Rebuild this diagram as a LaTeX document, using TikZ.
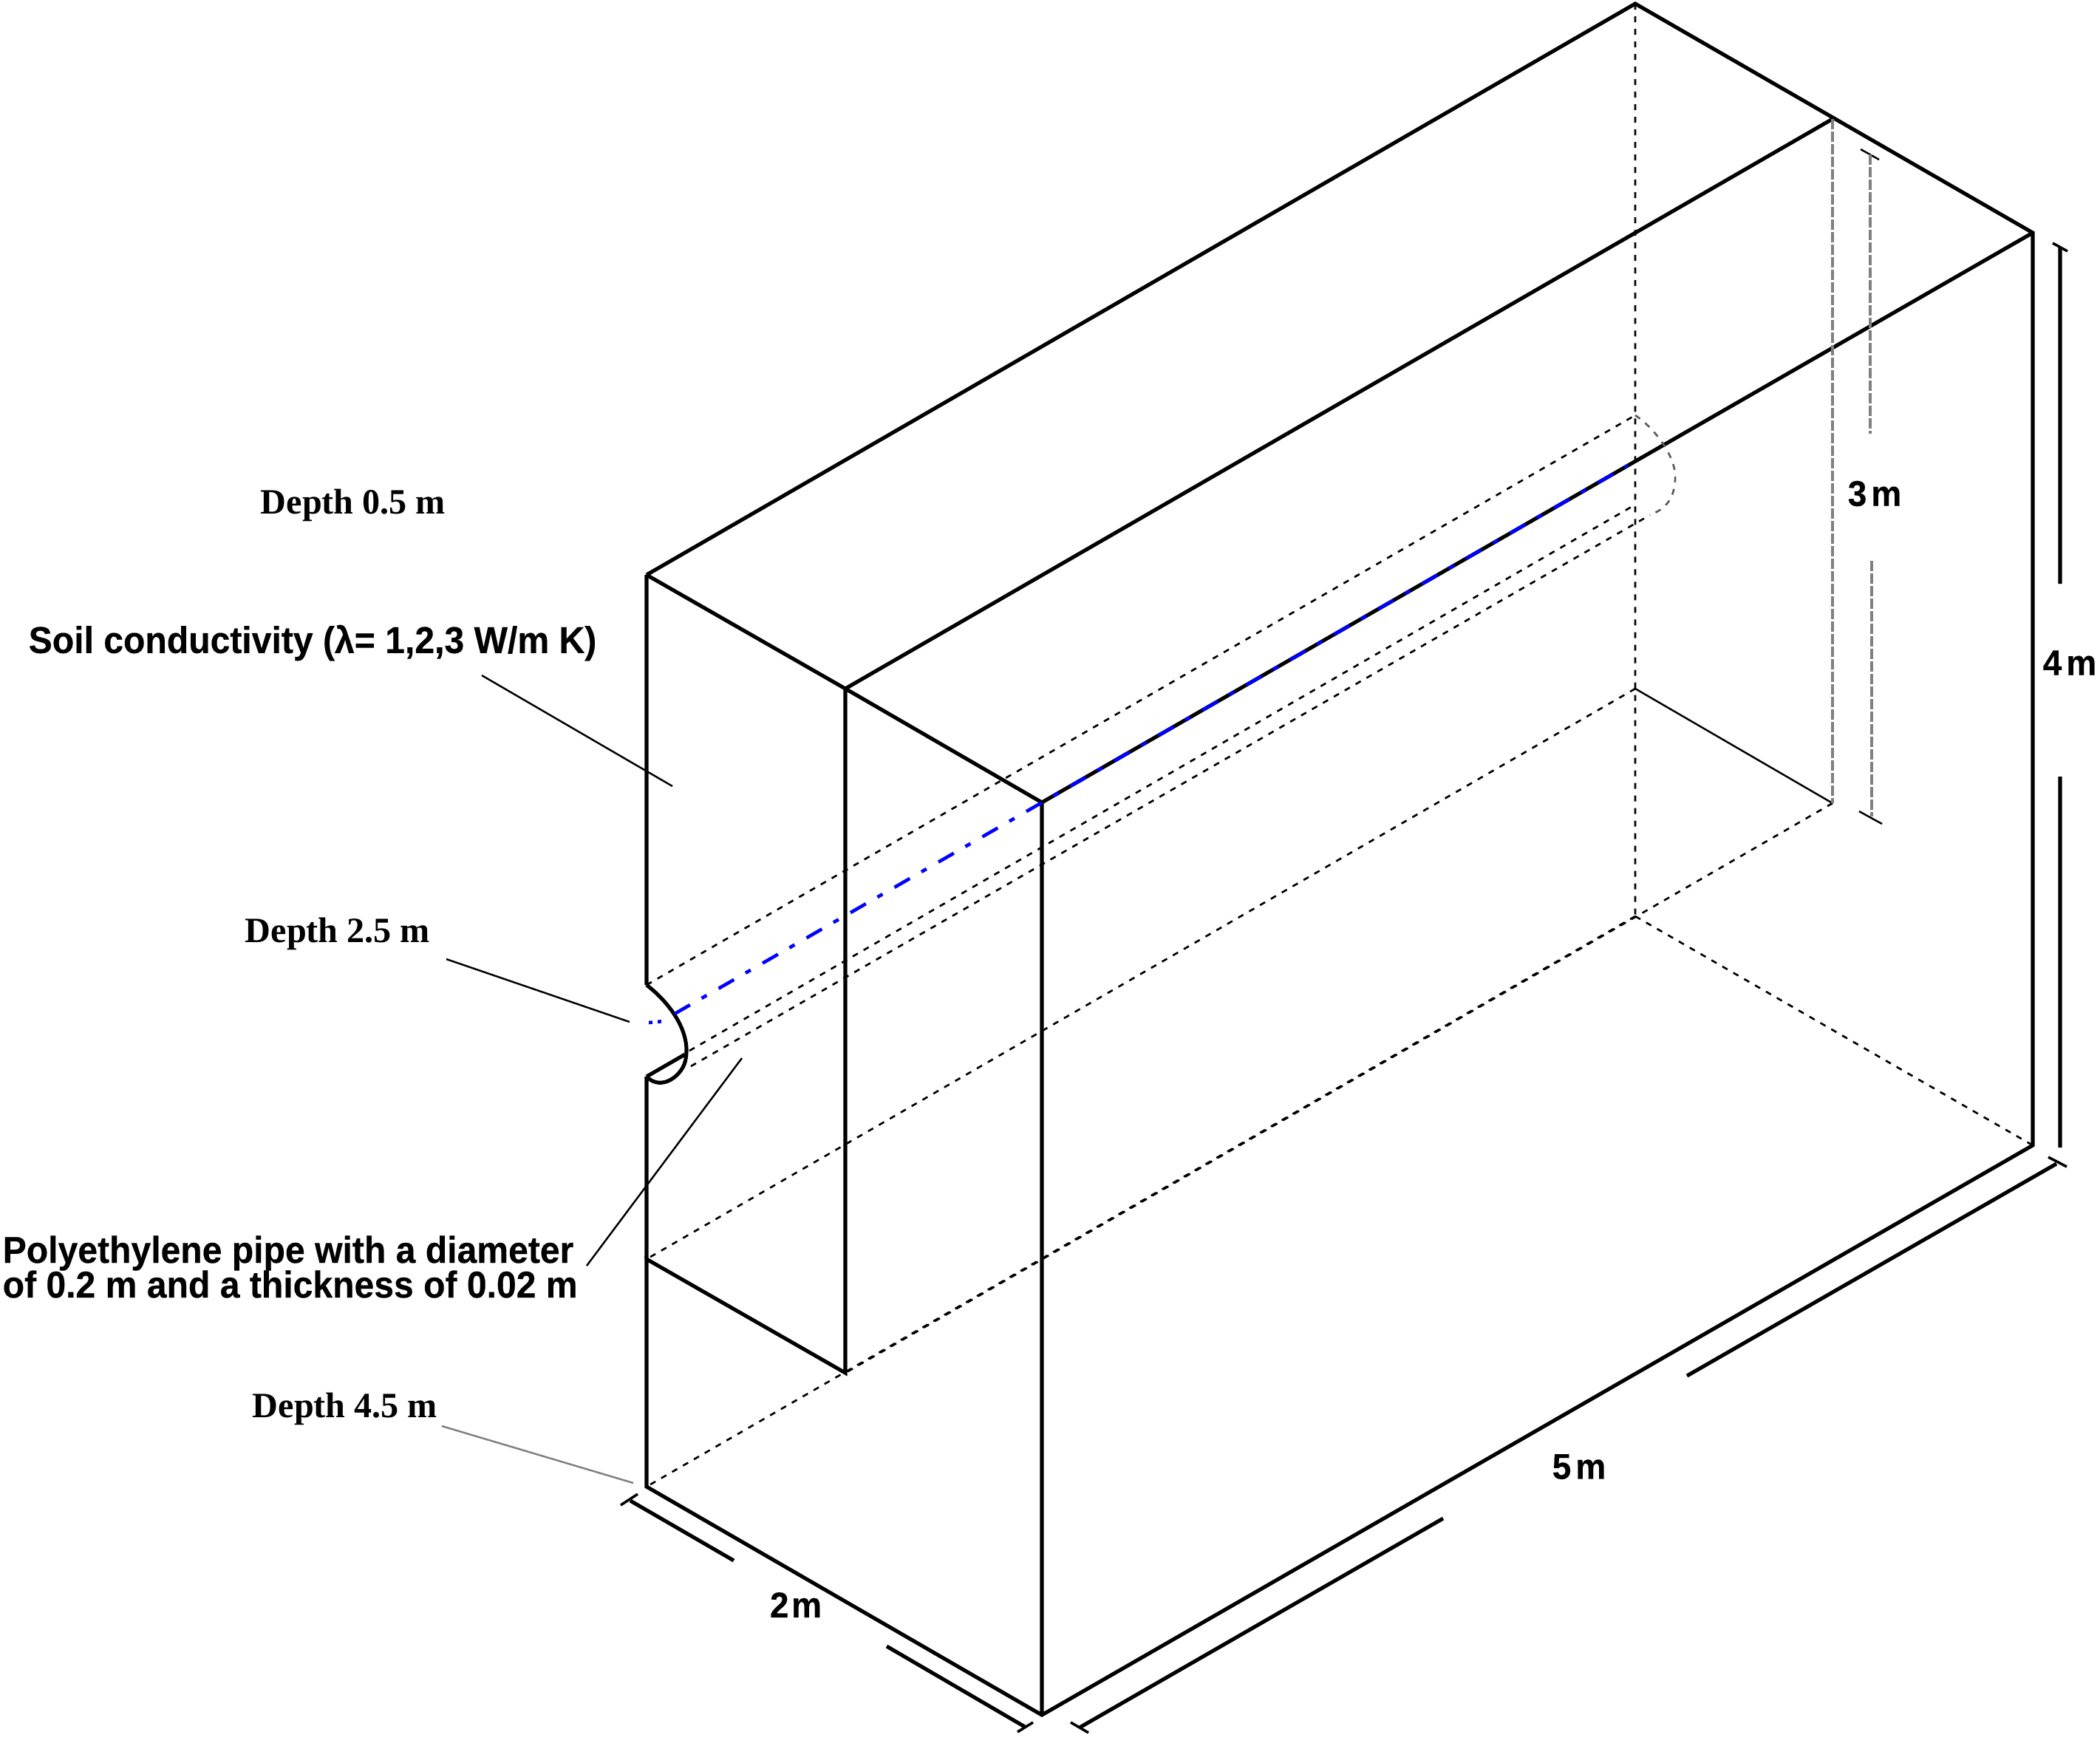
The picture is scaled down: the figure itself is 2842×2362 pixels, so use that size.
\documentclass[tikz,border=0pt]{standalone}
\usepackage{fontspec}
\setmainfont{Liberation Serif}
\setsansfont{Liberation Sans}[BoldFeatures={FakeStretch=0.95,FakeBold=0.3}]
\tikzset{
  heavy/.style={line width=1.45pt,line join=miter},
  thin line/.style={line width=0.7pt},
  tick line/.style={line width=1pt},
  hidden/.style={line width=0.75pt,dash pattern=on 0.08cm off 0.09cm},
  greyline/.style={line width=1.35pt,gray,dash pattern=on 0.14cm off 0.03cm},
  sanslabel/.style={font=\sffamily\bfseries\fontsize{14.4}{15}\selectfont,inner sep=0pt},
  dimlabel/.style={font=\sffamily\bfseries\fontsize{13.8}{15}\selectfont,inner sep=0pt},
  seriflabel/.style={font=\bfseries\fontsize{13.7}{14}\selectfont,inner sep=0pt}
}
\begin{document}
\begin{tikzpicture}[x=0.01cm,y=-0.01cm]
\useasboundingbox (0,0) rectangle (2842,2362);
\path (875,778) coordinate (A) (2213,5) coordinate (T) (1144,932) coordinate (L)
 (2480,161) coordinate (Lb) (1410,1086) coordinate (F) (2751,315) coordinate (R)
 (1410,2321) coordinate (G) (2751,1550) coordinate (H) (875,2012) coordinate (J)
 (875,1704) coordinate (K) (1144,1858) coordinate (M) (2213,1240) coordinate (Bl)
 (2213,932) coordinate (Bm) (2480,1087) coordinate (Br);
\path (875,1333) coordinate (N1) (875,1457) coordinate (N2) (927,1427) coordinate (N3)
 (2213,562) coordinate (P1) (933,1422) coordinate (Q1) (2213,683) coordinate (P2)
 (935,1443) coordinate (Q2) (2233,697) coordinate (P3) (913,1372) coordinate (C1)
 (2203,630) coordinate (C2);
% box
\draw[heavy](A)--(T)--(R)--(H)--(G)--(J)--(K)--(M)--(L)--(A)(L)--(F)--(G)(F)--(R)(L)--(Lb);
\draw[heavy](A)--(N1)(N2)--(K)(N2)--(N3);
\draw[heavy](N1)..controls(905,1356)and(935,1395)..(928,1433)
 ..controls(925,1455)and(895,1478)..(N2);
% hidden edges
\draw[hidden](T)--(Bl)(Bl)--(J)(Bl)--(H)(Bm)--(K)(Br)--(M);
\draw[thin line](Bm)--(Br);
\draw[greyline](Lb)--(Br);
% pipe
\draw[hidden](N1)--(P1)(Q1)--(P2)(Q2)--(P3);
\draw[hidden,gray!70!black](P1)..controls(2240,580)and(2270,620)..(2267,650)
 ..controls(2265,680)and(2250,690)..(P3);
\draw[blue,line width=1.3pt,dash pattern=on 0.24cm off 0.18cm on 0.08cm off 0.186cm](C1)--(C2);
\draw[blue,line width=1.3pt,dash pattern=on 0.05cm off 0.07cm](878,1384)--(898,1382);
% dimensions
\path (2778,329) coordinate (a1) (2798,340) coordinate (a2) (2788,335) coordinate (a3)
 (2788,790) coordinate (a4) (2788,1051) coordinate (a5) (2788,1553) coordinate (a6)
 (2518,202) coordinate (b1) (2543,216) coordinate (b2) (2531,209) coordinate (b3)
 (2531,587) coordinate (b4) (2533,759) coordinate (b5) (2533,1105) coordinate (b6)
 (2516,1098) coordinate (b7) (2547,1115) coordinate (b8)
 (2783,1575) coordinate (c1) (2283,1862) coordinate (c2) (1953,2055) coordinate (c3)
 (1461,2338) coordinate (c4) (2772,1566) coordinate (c5) (2797,1579) coordinate (c6)
 (1449,2331) coordinate (c7) (1473,2345) coordinate (c8)
 (853,2031) coordinate (d1) (993,2112) coordinate (d2) (1200,2228) coordinate (d3)
 (1387,2337) coordinate (d4) (840,2037) coordinate (d5) (863,2022) coordinate (d6)
 (1377,2344) coordinate (d7) (1398,2331) coordinate (d8);
\draw[heavy](a3)--(a4)(a5)--(a6)(c1)--(c2)(c3)--(c4)(d1)--(d2)(d3)--(d4);
\draw[tick line](a1)--(a2)(c5)--(c6)(c7)--(c8)(d5)--(d6)(d7)--(d8);
\draw[thin line](b1)--(b2)(b7)--(b8);
\draw[greyline](b3)--(b4)(b5)--(b6);
% labels
\node[sanslabel,anchor=center] (soil) at (423,870) {Soil conductivity (λ= 1,2,3 W/m K)};
\node[seriflabel,anchor=center] (d05) at (478,684) {Depth 0.5 m};
\node[seriflabel,anchor=center] (d25) at (457,1264) {Depth 2.5 m};
\node[seriflabel,anchor=center] (d45) at (467,1907) {Depth 4.5 m};
\node[sanslabel,anchor=west] (pipe1) at (3,1696) {Polyethylene pipe with a diameter};
\node[sanslabel,anchor=west] (pipe2) at (3,1738) {of 0.2 m and a thickness of 0.02 m};
\node[dimlabel,anchor=center] (two) at (1077,2172) {2\kern1pt m};
\node[dimlabel,anchor=center] (five) at (2137,1985) {5\kern1.7pt m};
\node[dimlabel,anchor=center] (three) at (2537,668) {3\kern1.7pt m};
\node[dimlabel,anchor=center] (four) at (2801,897) {4\kern1.7pt m};
% leaders
\path (652,914) coordinate (s1) (910,1064) coordinate (s2) (604,1298) coordinate (e1)
 (852,1383) coordinate (e2) (1004,1432) coordinate (f1) (794,1713) coordinate (f2)
 (598,1930) coordinate (g1) (857,2007) coordinate (g2);
\draw[thin line](s1)--(s2)(e1)--(e2)(f1)--(f2);
\draw[thin line,gray](g1)--(g2);
\end{tikzpicture}
\end{document}
